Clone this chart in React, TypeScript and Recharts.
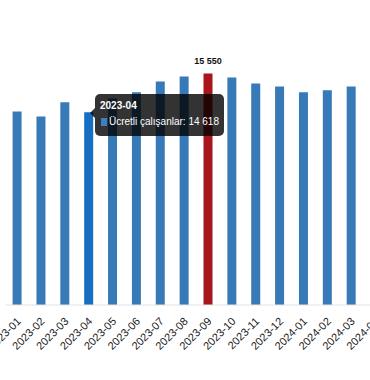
import React from "react"
import { BarChart, Bar, XAxis, YAxis, Tooltip, Cell, LabelList } from "recharts"

const months = [
  "2023-01", "2023-02", "2023-03", "2023-04", "2023-05", "2023-06", "2023-07", "2023-08",
  "2023-09", "2023-10", "2023-11", "2023-12", "2024-01", "2024-02", "2024-03", "2024-04",
]
const employees = [
  14640, 14520, 14860, 14618, 14950, 15100, 15360, 15480,
  15550, 15455, 15310, 15240, 15100, 15150, 15240, 15300,
]
const seriesName = "Ücretli çalışanlar"
const hoveredMonth = "2023-04"
const peakMonth = "2023-09"

const data = months.map((m, i) => ({ month: m, value: employees[i] }))

const fmt = (v: number) => String(v).replace(/\B(?=(\d{3})+(?!\d))/g, " ")

const FONT = "'Liberation Sans', Arial, sans-serif"

function AngledTick({ x, y, payload }: any) {
  return (
    <text
      x={x + 4}
      y={y + 9}
      transform={`rotate(-45, ${x + 4}, ${y + 9})`}
      textAnchor="end"
      fontSize={11}
      fontFamily={FONT}
      fill="#222"
    >
      {payload.value}
    </text>
  )
}

function PeakLabel({ x, y, width, value, index }: any) {
  if (months[index] !== peakMonth) return null
  return (
    <text x={x + width / 2} y={y - 9} textAnchor="middle" fontSize={9} fontWeight="bold" fontFamily={FONT} fill="#111">
      {fmt(value)}
    </text>
  )
}

function TipBox({ payload }: any) {
  const row = payload && payload.length ? payload[0].payload : data[3]
  return (
    <div
      style={{
        position: "relative",
        width: 119,
        padding: "5px 5px 7px 5px",
        background: "rgba(0,0,0,0.8)",
        borderRadius: 5,
        color: "#fff",
        fontFamily: FONT,
        fontSize: 10,
      }}
    >
      <div
        style={{
          position: "absolute",
          left: -5,
          top: 14,
          width: 0,
          height: 0,
          borderTop: "5px solid transparent",
          borderBottom: "5px solid transparent",
          borderRight: "5px solid rgba(0,0,0,0.8)",
        }}
      />
      <div style={{ fontWeight: "bold", lineHeight: "14px", whiteSpace: "nowrap" }}>{row.month}</div>
      <div style={{ lineHeight: "14px", whiteSpace: "nowrap", display: "flex", alignItems: "center", marginTop: 2 }}>
        <span style={{ display: "inline-block", width: 8, height: 8, background: "#3d80c0", marginLeft: 1, marginRight: 2 }} />
        {seriesName}: {fmt(row.value)}
      </div>
    </div>
  )
}

export default function App() {
  return (
    <div style={{ position: "fixed", left: 0, top: 0, width: 370, height: 380, overflow: "hidden", background: "#fff" }}>
      <BarChart width={400} height={380} data={data} margin={{ top: 13, right: 12.6, left: 5.6, bottom: 5 }}>
        <XAxis
          dataKey="month"
          interval={0}
          height={70}
          tickLine={false}
          axisLine={{ stroke: "#e3e3e3" }}
          tick={<AngledTick />}
        />
        <YAxis hide domain={[10000, 17000]} allowDataOverflow />
        <Tooltip
          active
          defaultIndex={3}
          cursor={false}
          position={{ x: 95, y: 94 }}
          content={<TipBox />}
          isAnimationActive={false}
          wrapperStyle={{ outline: "none", zIndex: 10 }}
        />
        <Bar dataKey="value" name={seriesName} barSize={9} isAnimationActive={false} activeBar={false}>
          {data.map((d) => (
            <Cell
              key={d.month}
              fill={d.month === peakMonth ? "#a8151d" : d.month === hoveredMonth ? "#1570c4" : "#377ab7"}
            />
          ))}
          <LabelList dataKey="value" content={<PeakLabel />} />
        </Bar>
      </BarChart>
    </div>
  )
}
